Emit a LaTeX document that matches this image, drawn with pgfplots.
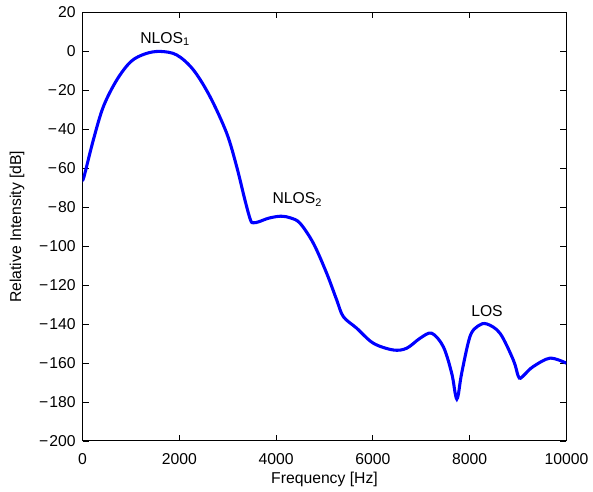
\documentclass[border=0pt]{standalone}
\usepackage{fontspec}
\setmainfont{Liberation Sans}
\usepackage{pgfplots}
\pgfplotsset{compat=1.18}
\newcommand{\mn}{−\kern0.8pt}
\begin{document}
\fontsize{11.8}{14}\selectfont
\begin{tikzpicture}
\path[use as bounding box] (-61.9pt,-38.25pt) rectangle (382.9pt,330.75pt);
\begin{axis}[
  at={(0,0)}, anchor=south west,
  scale only axis,
  width=363pt, height=321.4pt,
  xmin=0, xmax=10000, ymin=-200, ymax=20,
  xtick={0,2000,...,10000},
  xticklabels={0,2000,4000,6000,8000,10000},
  scaled x ticks=false,
  ytick={-200,-180,...,20},
  yticklabels={\mn200,\mn180,\mn160,\mn140,\mn120,\mn100,\mn80,\mn60,\mn40,\mn20,0,20},
  tick align=inside,
  tick pos=both,
  major tick length=4.5pt,
  axis line style={line width=0.8pt},
  every tick/.style={black, line width=0.6pt},
  xlabel={Frequency [Hz]},
  ylabel={Relative Intensity [dB]},
  xticklabel style={yshift=-5pt},
  yticklabel style={xshift=-1pt},
  xlabel style={yshift=2.5pt},
  ylabel style={yshift=3pt},
  tick label style={font=\fontsize{11.8}{14}\selectfont},
  label style={font=\fontsize{11.8}{14}\selectfont},
  clip=true,
]
\addplot[blue, line width=2.3pt, smooth, tension=0.55] coordinates {
(0,-65.5) (31,-64.3) (223,-45.5) (430,-28.4) (707,-14.7) (1000,-5.2) (1300,-1.2)
(1601,0) (1946,-1.8) (2291,-9.5) (2634,-23.2) (2979,-42) (3186,-59.2)
(3357,-76.4) (3470,-86.5) (3530,-88) (3650,-87.4) (3850,-85.6) (4100,-84.6) (4300,-85.5)
(4494,-88.2) (4770,-98.5) (5045,-113.9) (5252,-127.6) (5390,-136.2)
(5665,-142.1) (6008,-149.8) (6422,-153.3) (6698,-152.4) (6973,-147.3)
(7215,-144.7) (7455,-151.6) (7628,-165.2) (7700,-175.5) (7735,-178.5) (7770,-175.5) (7835,-165.2)
(8006,-146.4) (8170,-141) (8351,-139.9) (8626,-144.7) (8901,-158.4) (9000,-166.5) (9050,-167.8)
(9150,-165.5) (9314,-161.8) (9659,-157.5) (10000,-160.1)
};
\node[anchor=base west, inner sep=0pt] at (axis cs:1188,4.2) {NLOS\textsubscript{1}};
\node[anchor=base west, inner sep=0pt] at (axis cs:3921,-78.3) {NLOS\textsubscript{2}};
\node[anchor=base west, inner sep=0pt] at (axis cs:8027,-136.2) {LOS};
\end{axis}
\end{tikzpicture}
\end{document}
